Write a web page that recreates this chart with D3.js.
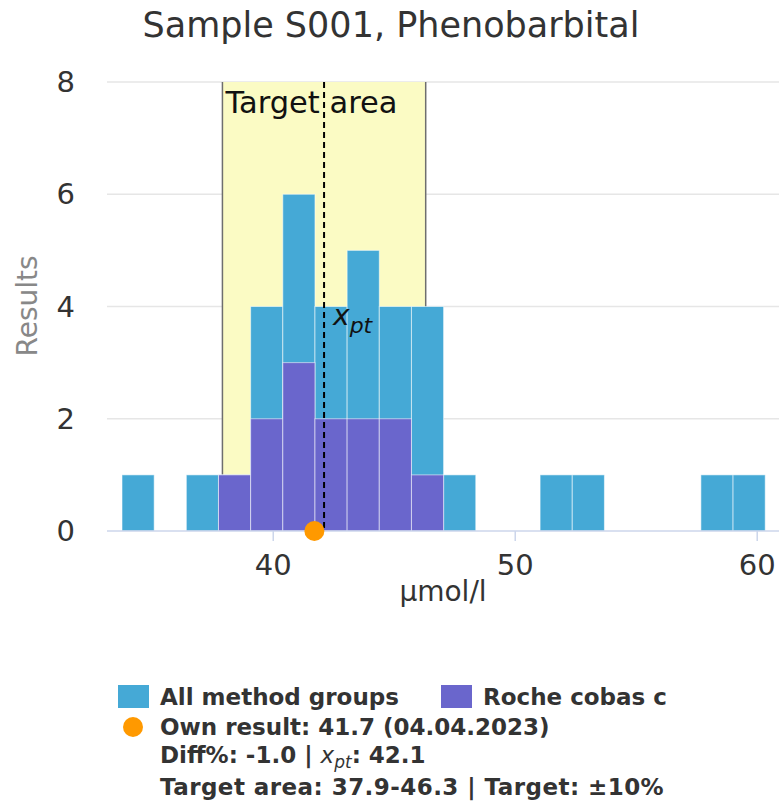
<!DOCTYPE html>
<html>
<head>
<meta charset="utf-8">
<script src="https://cdn.jsdelivr.net/npm/d3@7"></script>
<style>
  body { margin: 0; background: #fff; }
  svg { font-family: "DejaVu Sans", Verdana, sans-serif; }
</style>
</head>
<body>
<script>
'use strict';

// histogram bins (equal width), counts per bin
const binStart = 33.75,
      binWidth = 1.329;
const allCounts   = [1, 0, 1, 1, 4, 6, 4, 5, 4, 4, 1, 0, 0, 1, 1, 0, 0, 0, 1, 1];
const rocheCounts = [0, 0, 0, 1, 2, 3, 2, 2, 2, 1, 0, 0, 0, 0, 0, 0, 0, 0, 0, 0];

const xTicks = [40, 50, 60];
const yTicks = [0, 2, 4, 6, 8];

const targetLow = 37.9, targetHigh = 46.3;
const xpt = 42.1;
const ownResult = 41.7;

const title = "Sample S001, Phenobarbital";
const seriesNames = ["All method groups", "Roche cobas c"];
const ownText = "Own result: 41.7 (04.04.2023)";
const targetText = "Target area: 37.9-46.3 | Target: ±10%";

const width = 779, height = 810;
const colors = {all: "#45a9d6", roche: "#6a66cc", own: "#ff9900", band: "#fbfbc4"};

const x = d3.scaleLinear().domain([33.13, 60.9]).range([107, 779]);
const y = d3.scaleLinear().domain([0, 8]).range([531, 82]);

const svg = d3.select("body").append("svg")
    .attr("width", width)
    .attr("height", height);

// title
svg.append("text")
    .attr("x", 391).attr("y", 37)
    .attr("text-anchor", "middle")
    .style("font-size", "35px")
    .style("fill", "#333")
    .text(title);

// grid
svg.append("g").selectAll("line")
    .data(yTicks.filter(d => d > 0))
  .enter().append("line")
    .attr("x1", 107).attr("x2", 779)
    .attr("y1", d => y(d)).attr("y2", d => y(d))
    .style("stroke", "#e6e6e6")
    .style("stroke-width", 1.5);

// target band
svg.append("rect")
    .attr("x", x(targetLow))
    .attr("y", y(8))
    .attr("width", x(targetHigh) - x(targetLow))
    .attr("height", y(0) - y(8))
    .style("fill", colors.band);

svg.selectAll(".band-edge")
    .data([targetLow, targetHigh])
  .enter().append("line")
    .attr("class", "band-edge")
    .attr("x1", d => x(d)).attr("x2", d => x(d))
    .attr("y1", y(8)).attr("y2", y(0))
    .style("stroke", "#6e6e6e")
    .style("stroke-width", 1.5);

svg.append("text")
    .attr("x", x(targetLow) + 3).attr("y", 113)
    .style("font-size", "30.5px")
    .style("fill", "#111")
    .text("Target area");

// bars: all groups behind, method group in front
const drawBars = (counts, color) => {
  svg.append("g").selectAll("rect")
      .data(counts.map((c, i) => ({c: c, x0: binStart + i * binWidth})).filter(d => d.c > 0))
    .enter().append("rect")
      .attr("x", d => x(d.x0))
      .attr("y", d => y(d.c))
      .attr("width", d => x(d.x0 + binWidth) - x(d.x0))
      .attr("height", d => y(0) - y(d.c))
      .style("fill", color)
      .style("stroke", "rgba(255,255,255,0.55)")
      .style("stroke-width", 1);
};
drawBars(allCounts, colors.all);
drawBars(rocheCounts, colors.roche);

// x_pt line
svg.append("line")
    .attr("x1", x(xpt)).attr("x2", x(xpt))
    .attr("y1", y(8)).attr("y2", y(0))
    .style("stroke", "#000")
    .style("stroke-width", 2)
    .style("stroke-dasharray", "6,4");

const xptLabel = svg.append("text")
    .attr("x", x(xpt) + 9).attr("y", 325)
    .style("font-size", "28px")
    .style("font-style", "italic")
    .style("fill", "#111");
xptLabel.append("tspan").text("x");
xptLabel.append("tspan").attr("dy", 8).style("font-size", "22px").text("pt");

// x axis
svg.append("line")
    .attr("x1", 107).attr("x2", 779)
    .attr("y1", y(0)).attr("y2", y(0))
    .style("stroke", "#ccd6eb")
    .style("stroke-width", 1.5);

svg.append("g").selectAll("line")
    .data(xTicks)
  .enter().append("line")
    .attr("x1", d => x(d)).attr("x2", d => x(d))
    .attr("y1", y(0)).attr("y2", y(0) + 10)
    .style("stroke", "#ccd6eb")
    .style("stroke-width", 1.5);

svg.append("g").selectAll("text")
    .data(xTicks)
  .enter().append("text")
    .attr("x", d => x(d)).attr("y", 575)
    .attr("text-anchor", "middle")
    .style("font-size", "29px")
    .style("fill", "#333")
    .text(d => d);

svg.append("text")
    .attr("x", 443).attr("y", 601)
    .attr("text-anchor", "middle")
    .style("font-size", "28px")
    .style("fill", "#333")
    .text("µmol/l");

// y axis
svg.append("g").selectAll("text")
    .data(yTicks)
  .enter().append("text")
    .attr("x", 75).attr("y", d => y(d) + 10)
    .attr("text-anchor", "end")
    .style("font-size", "29px")
    .style("fill", "#333")
    .text(d => d);

svg.append("text")
    .attr("transform", "translate(37,306) rotate(-90)")
    .attr("text-anchor", "middle")
    .style("font-size", "28px")
    .style("fill", "#888")
    .text("Results");

// own result
svg.append("circle")
    .attr("cx", x(ownResult)).attr("cy", y(0))
    .attr("r", 10)
    .style("fill", colors.own);

// legend
const legend = svg.append("g")
    .style("font-size", "23px")
    .style("font-weight", "bold")
    .style("fill", "#333");

const legendX = [118, 441];
seriesNames.forEach((name, i) => {
  legend.append("rect")
      .attr("x", legendX[i]).attr("y", 685)
      .attr("width", 31).attr("height", 23)
      .style("fill", i === 0 ? colors.all : colors.roche);
  legend.append("text")
      .attr("x", legendX[i] + 42).attr("y", 705)
      .text(name);
});

legend.append("circle")
    .attr("cx", 133).attr("cy", 727)
    .attr("r", 10)
    .style("fill", colors.own);
legend.append("text")
    .attr("x", 160).attr("y", 735)
    .text(ownText);

const diffLine = legend.append("text")
    .attr("x", 160).attr("y", 763);
diffLine.append("tspan").text("Diff%: -1.0 | ");
diffLine.append("tspan").style("font-style", "italic").style("font-weight", "normal").text("x");
diffLine.append("tspan").attr("dy", 5).style("font-style", "italic").style("font-weight", "normal")
    .style("font-size", "17px").text("pt");
diffLine.append("tspan").attr("dy", -5).text(": 42.1");

legend.append("text")
    .attr("x", 160).attr("y", 795)
    .style("letter-spacing", "0.45px")
    .text(targetText);
</script>
</body>
</html>
